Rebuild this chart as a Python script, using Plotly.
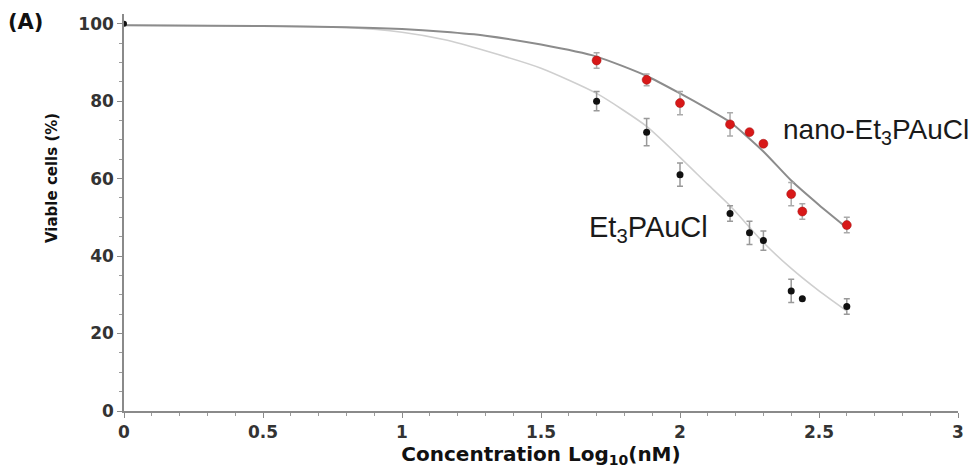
import plotly.graph_objects as go

# Measured points
conc = [1.7, 1.88, 2.0, 2.18, 2.25, 2.3, 2.4, 2.44, 2.6]
free_vals = [80, 72, 61, 51, 46, 44, 31, 29, 27]
free_err = [2.5, 3.5, 3, 2, 3, 2.5, 3, 0, 2]
nano_vals = [90.5, 85.5, 79.5, 74, 72, 69, 56, 51.5, 48]
nano_err = [2, 1.5, 3, 3, 0, 0, 3, 2, 2]

start_x = [0]
start_y = [100]

# Fitted curves
fit_x = [0, 0.5, 0.8, 1.0, 1.15, 1.3, 1.5, 1.7, 1.88, 2.0, 2.1, 2.18, 2.3, 2.4, 2.5, 2.6]
nano_fit = [99.6, 99.4, 99.1, 98.6, 97.9, 96.9, 94.6, 91.5, 86.5, 82.0, 78.0, 74.6, 67.0, 59.5, 53.2, 47.3]
free_fit = [99.6, 99.4, 99.0, 97.8, 95.9, 93.0, 88.5, 82.0, 73.5, 65.5, 58.5, 53.0, 43.5, 36.8, 31.0, 25.8]

x_ticks = [0, 0.5, 1, 1.5, 2, 2.5, 3]
x_tick_text = ["0", "0.5", "1", "1.5", "2", "2.5", "3"]
y_ticks = [0, 20, 40, 60, 80, 100]

FONT = "Liberation Sans, Arial, sans-serif"
BOLD = "DejaVu Sans, Verdana, sans-serif"

fig = go.Figure()

fig.add_trace(go.Scatter(x=fit_x, y=free_fit, mode="lines", line=dict(color="#cfcfcf", width=1.6, shape="spline", smoothing=0.6),
                         showlegend=False, hoverinfo="skip"))
fig.add_trace(go.Scatter(x=fit_x, y=nano_fit, mode="lines", line=dict(color="#8c8c8c", width=2, shape="spline", smoothing=0.6),
                         showlegend=False, hoverinfo="skip"))

fig.add_trace(go.Scatter(x=conc, y=free_vals, mode="markers",
                         marker=dict(color="#111111", size=7, symbol="circle"),
                         error_y=dict(type="data", array=free_err, color="#999999", thickness=1.5, width=3),
                         name="Et3PAuCl", showlegend=False))
fig.add_trace(go.Scatter(x=conc, y=nano_vals, mode="markers",
                         marker=dict(color="#d81818", size=9, symbol="circle",
                                     line=dict(color="#a01010", width=0.5)),
                         error_y=dict(type="data", array=nano_err, color="#aaaaaa", thickness=1.5, width=3),
                         name="nano-Et3PAuCl", showlegend=False))
fig.add_trace(go.Scatter(x=start_x, y=start_y, mode="markers",
                         marker=dict(color="#111111", size=6), showlegend=False))

fig.add_annotation(x=2.365, y=72.1, xref="x", yref="y", text="nano-Et<sub>3</sub>PAuCl", showarrow=False,
                   xanchor="left", yanchor="middle", font=dict(family=FONT, size=28, color="#1a1a1a"))
fig.add_annotation(x=1.665, y=47.0, xref="x", yref="y", text="Et<sub>3</sub>PAuCl", showarrow=False,
                   xanchor="left", yanchor="middle", font=dict(family=FONT, size=29, color="#1a1a1a"))
fig.add_annotation(x=-0.142, y=1.015, xref="paper", yref="paper", text="<b>(A)</b>", showarrow=False,
                   xanchor="left", yanchor="top", font=dict(family=BOLD, size=21, color="#111"))
fig.add_annotation(x=-0.0863, y=0.587, xref="paper", yref="paper", text="<b>Viable cells (%)</b>", showarrow=False,
                   textangle=-90, xanchor="center", yanchor="middle", font=dict(family=BOLD, size=15, color="#111"))

tickfont = dict(family=BOLD, size=17, color="#333333", weight="bold")
fig.update_xaxes(range=[0, 3], tickvals=x_ticks, ticktext=x_tick_text, showgrid=False, zeroline=False,
                 showline=True, linecolor="#8a8a8a", linewidth=1.5, ticks="outside", ticklen=5,
                 tickcolor="#8a8a8a", tickfont=tickfont, automargin=False,
                 minor=dict(dtick=0.1, ticks="outside", ticklen=3, tickcolor="#9a9a9a"),
                 title=dict(text="<b>Concentration Log<sub>10</sub>(nM)</b>", font=dict(family=BOLD, size=20, color="#111"), standoff=2))
fig.update_yaxes(range=[0, 102.5], tickvals=y_ticks, showgrid=False, zeroline=False,
                 showline=True, linecolor="#8a8a8a", linewidth=1.5, ticks="outside", ticklen=5,
                 tickcolor="#8a8a8a", tickfont=tickfont, automargin=False,
                 minor=dict(dtick=5, ticks="outside", ticklen=3, tickcolor="#9a9a9a"))

# page body has an 8px default margin, so the figure is shifted; compensate
fig.update_layout(width=971, height=465, margin=dict(l=116, r=21, t=6, b=62),
                  plot_bgcolor="white", paper_bgcolor="white")

fig.write_html("out.html")
